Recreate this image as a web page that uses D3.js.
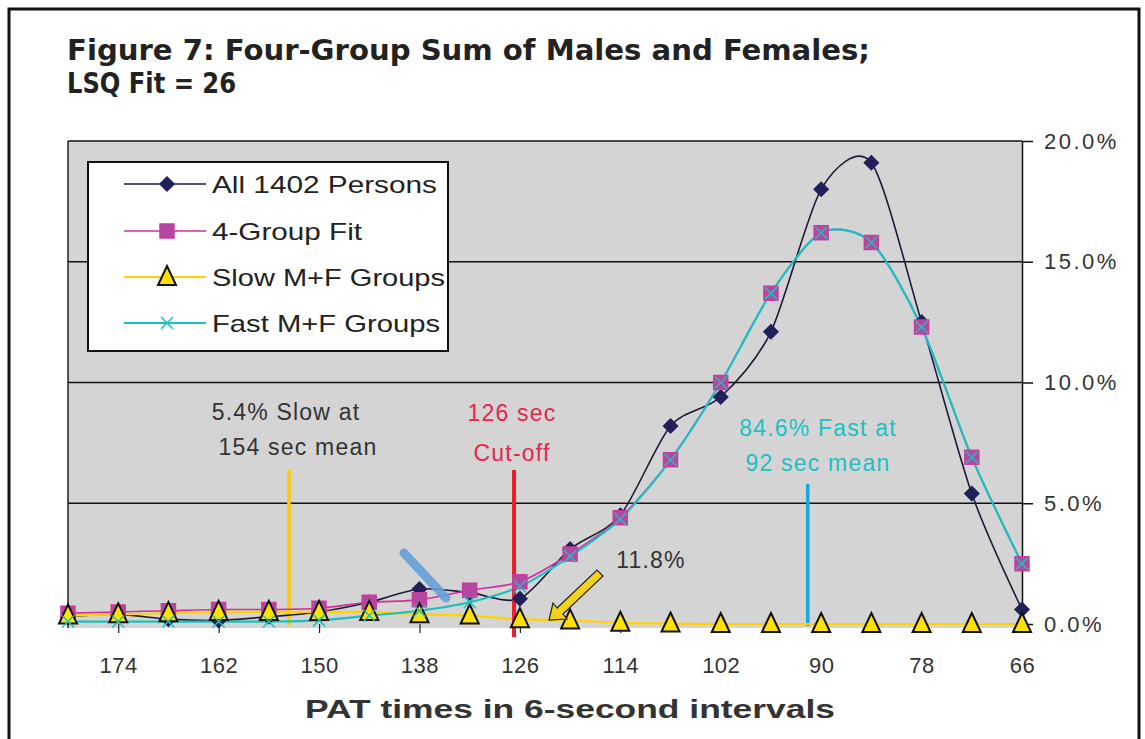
<!DOCTYPE html>
<html>
<head>
<meta charset="utf-8">
<script src="https://cdn.jsdelivr.net/npm/d3@7"></script>
<style>
  body { margin: 0; background: #fff; }
  text { font-family: "Liberation Sans", Arial, sans-serif; }
</style>
</head>
<body>
<div id="chart"></div>
<script>
// PAT time categories (seconds), plotted right-to-left
var times = [180, 174, 168, 162, 156, 150, 144, 138, 132, 126, 120, 114, 108, 102, 96, 90, 84, 78, 72, 66];
var tickTimes = [174, 162, 150, 138, 126, 114, 102, 90, 78, 66];
var yTicks = [0, 5, 10, 15, 20];

// percent of persons in each 6-second bin
var allPersons = [0.3, 0.4, 0.2, 0.15, 0.3, 0.5, 0.9, 1.45, 1.3, 1.05, 3.1, 4.5, 8.2, 9.4, 12.1, 18.0, 19.1, 12.5, 5.4, 0.6];
var groupFit   = [0.45, 0.5, 0.55, 0.6, 0.6, 0.65, 0.9, 1.0, 1.4, 1.75, 2.9, 4.4, 6.8, 10.0, 13.7, 16.2, 15.8, 12.3, 6.9, 2.5];
var slowGroups = [0.35, 0.4, 0.45, 0.5, 0.5, 0.5, 0.5, 0.4, 0.35, 0.2, 0.15, 0.05, 0.02, 0, 0, 0, 0, 0, 0, 0];
var fastGroups = [0.1, 0.1, 0.1, 0.1, 0.1, 0.15, 0.35, 0.55, 0.9, 1.55, 2.8, 4.35, 6.8, 10.0, 13.7, 16.2, 15.8, 12.3, 6.9, 2.5];

// annotation markers (seconds)
var slowMean = 153.6, cutOff = 126.7, fastMean = 91.6;

var width = 1145, height = 739;
var plotLeft = 68, plotRight = 1022, plotTop = 141, plotBottom = 624;

var svg = d3.select("#chart")
  .append("svg")
    .attr("width", width)
    .attr("height", height);

// outer frame
svg.append("rect")
  .attr("x", 9).attr("y", 9).attr("width", 1130).attr("height", 740)
  .attr("fill", "#fff").attr("stroke", "#111").attr("stroke-width", 3);

var x = d3.scaleLinear().domain([180, 66]).range([plotLeft, plotRight]);
var y = d3.scaleLinear().domain([0, 20]).range([plotBottom, plotTop]);

// title
svg.append("text")
  .attr("x", 67).attr("y", 60)
  .attr("textLength", 803).attr("lengthAdjust", "spacingAndGlyphs")
  .style("font-family", "'DejaVu Sans Condensed', 'Liberation Sans Narrow', sans-serif")
  .style("font-weight", "bold").style("font-size", "29px").attr("fill", "#222")
  .text("Figure 7: Four-Group Sum of Males and Females;");
svg.append("text")
  .attr("x", 67).attr("y", 93)
  .attr("textLength", 169).attr("lengthAdjust", "spacingAndGlyphs")
  .style("font-family", "'DejaVu Sans Condensed', 'Liberation Sans Narrow', sans-serif")
  .style("font-weight", "bold").style("font-size", "29px").attr("fill", "#222")
  .text("LSQ Fit = 26");

// plot area
svg.append("rect")
  .attr("x", plotLeft).attr("y", plotTop)
  .attr("width", plotRight - plotLeft).attr("height", plotBottom - plotTop + 4)
  .attr("fill", "#d4d4d4");

// gridlines
svg.selectAll(".grid")
  .data(yTicks.filter(function(d){ return d > 0; }))
  .enter().append("line")
    .attr("x1", plotLeft).attr("x2", plotRight)
    .attr("y1", function(d){ return y(d); })
    .attr("y2", function(d){ return y(d); })
    .attr("stroke", "#111").attr("stroke-width", 1.5);

svg.append("line")
  .attr("x1", plotLeft).attr("x2", plotLeft).attr("y1", plotTop).attr("y2", plotBottom + 4)
  .attr("stroke", "#222").attr("stroke-width", 1.5);

// right axis
var yAxis = svg.append("g")
  .attr("transform", "translate(" + plotRight + ",0)")
  .call(d3.axisRight(y).tickValues(yTicks).tickSizeInner(11).tickSizeOuter(0).tickPadding(11)
        .tickFormat(function(d){ return d.toFixed(1) + "%"; }));
yAxis.select(".domain").attr("stroke", "#111").attr("stroke-width", 1.5);
yAxis.selectAll("line").attr("stroke", "#111").attr("stroke-width", 1.5);
yAxis.selectAll("text").style("font-size", "22px").attr("fill", "#333").style("letter-spacing", "2.5px");

// bottom axis
var xAxis = svg.append("g")
  .attr("transform", "translate(0," + plotBottom + ")")
  .call(d3.axisBottom(x).tickValues(tickTimes).tickSize(9).tickPadding(24));
xAxis.select(".domain").remove();
xAxis.selectAll("line").attr("stroke", "#222").attr("stroke-width", 1.2);
xAxis.selectAll("text").style("font-size", "22px").attr("fill", "#333").style("letter-spacing", "0.5px");

svg.append("text")
  .attr("x", 305).attr("y", 718)
  .attr("textLength", 530).attr("lengthAdjust", "spacingAndGlyphs")
  .style("font-size", "26px").style("font-weight", "bold")
  .attr("fill", "#333")
  .text("PAT times in 6-second intervals");

// annotations
var note = svg.append("g").style("font-size", "23px").style("letter-spacing", "1.2px");
note.append("text").attr("x", 286).attr("y", 420).attr("text-anchor", "middle").attr("fill", "#333").text("5.4% Slow at");
note.append("text").attr("x", 298).attr("y", 455).attr("text-anchor", "middle").attr("fill", "#333").text("154 sec mean");
note.append("text").attr("x", 512).attr("y", 421).attr("text-anchor", "middle").attr("fill", "#e8254d").text("126 sec");
note.append("text").attr("x", 512).attr("y", 461).attr("text-anchor", "middle").attr("fill", "#e8254d").text("Cut-off");
note.append("text").attr("x", 818).attr("y", 436).attr("text-anchor", "middle").attr("fill", "#1fbfc4").text("84.6% Fast at");
note.append("text").attr("x", 818).attr("y", 471).attr("text-anchor", "middle").attr("fill", "#1fbfc4").text("92 sec mean");
note.append("text").attr("x", 651).attr("y", 568).attr("text-anchor", "middle").attr("fill", "#333").text("11.8%");

svg.append("line")
  .attr("x1", x(slowMean)).attr("x2", x(slowMean)).attr("y1", 470).attr("y2", plotBottom + 2)
  .attr("stroke", "#ffcc00").attr("stroke-width", 3.5);
svg.append("line")
  .attr("x1", x(fastMean)).attr("x2", x(fastMean)).attr("y1", 484).attr("y2", plotBottom + 2)
  .attr("stroke", "#19a7e0").attr("stroke-width", 3.5);

// series
var series = [
  { name: "All 1402 Persons", len: 225, values: allPersons, line: "#1b1b3a", width: 1.6, marker: "diamond", fill: "#20205a", stroke: "#20205a" },
  { name: "4-Group Fit", len: 150, values: groupFit, line: "#d42c9a", width: 1.6, marker: "square", fill: "#b3489f", stroke: "#c93c9e" },
  { name: "Slow M+F Groups", len: 233, values: slowGroups, line: "#ffd200", width: 2.2, marker: "triangle", fill: "#ffe100", stroke: "#111" },
  { name: "Fast M+F Groups", len: 228, values: fastGroups, line: "#1cbfbf", width: 2.2, marker: "cross", fill: "none", stroke: "#1cbfbf" }
];

var line = d3.line()
  .x(function(d){ return x(d.t); })
  .y(function(d){ return y(d.v); })
  .curve(d3.curveCardinal.tension(0.2));

function markerPath(type) {
  if (type === "diamond") return "M0,-7L7,0L0,7L-7,0Z";
  if (type === "square") return "M-7,-7H7V7H-7Z";
  if (type === "triangle") return "M0,-11L9,8H-9Z";
  return "M-6,-6L6,6M-6,6L6,-6";
}

series.forEach(function(s){
  var pts = s.values.map(function(v, i){ return { t: times[i], v: v }; });
  svg.append("path")
    .datum(pts)
    .attr("d", line)
    .attr("fill", "none")
    .attr("stroke", s.line)
    .attr("stroke-width", s.width);
});

// red cut-off line sits over the curves
svg.append("line")
  .attr("x1", x(cutOff)).attr("x2", x(cutOff)).attr("y1", 470).attr("y2", 637)
  .attr("stroke", "#ee1c2e").attr("stroke-width", 4);

series.forEach(function(s){
  var pts = s.values.map(function(v, i){ return { t: times[i], v: v }; });
  svg.append("g").selectAll("path")
    .data(pts)
    .enter().append("path")
      .attr("transform", function(d){ return "translate(" + x(d.t) + "," + y(d.v) + ")"; })
      .attr("d", markerPath(s.marker))
      .attr("fill", s.fill)
      .attr("stroke", s.stroke)
      .attr("stroke-width", s.marker === "triangle" ? 2 : 1.5);
});

// arrows
svg.append("line")
  .attr("x1", 404).attr("y1", 553).attr("x2", 446).attr("y2", 598)
  .attr("stroke", "#5f9fd8").attr("stroke-width", 9).attr("stroke-linecap", "round")
  .attr("opacity", 0.85);
svg.append("path")
  .attr("d", "M549,620 L553,603 L557,608 L597,570 L603,576 L563,614 L567,619 Z")
  .attr("fill", "#f2d21b").attr("stroke", "#222").attr("stroke-width", 1.2);

// legend
var legend = svg.append("g");
legend.append("rect")
  .attr("x", 88).attr("y", 162).attr("width", 360).attr("height", 189)
  .attr("fill", "#fff").attr("stroke", "#111").attr("stroke-width", 2);

var rows = [184, 231, 277, 323];
series.forEach(function(s, i){
  var row = legend.append("g").attr("transform", "translate(0," + rows[i] + ")");
  row.append("line").attr("x1", 124).attr("x2", 206)
    .attr("stroke", s.line).attr("stroke-width", s.width);
  row.append("path").attr("transform", "translate(167,0)")
    .attr("d", markerPath(s.marker))
    .attr("fill", s.fill).attr("stroke", s.stroke)
    .attr("stroke-width", s.marker === "triangle" ? 2 : 1.5);
  row.append("text").attr("x", 212).attr("y", 9)
    .attr("textLength", s.len).attr("lengthAdjust", "spacingAndGlyphs")
    .style("font-size", "24px").attr("fill", "#222")
    .text(s.name);
});
</script>
</body>
</html>
